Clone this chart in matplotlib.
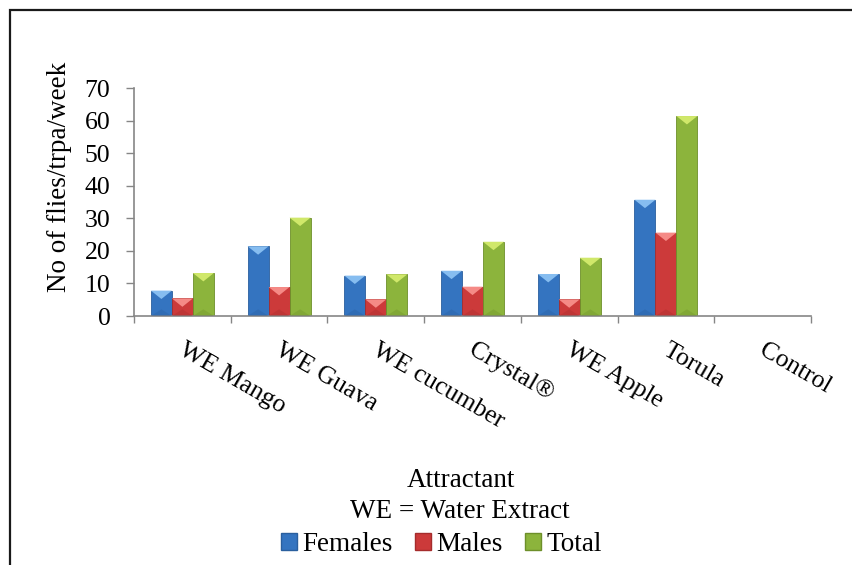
import numpy as np
import matplotlib.pyplot as plt
from matplotlib.patches import Rectangle, Polygon, Patch

# Fly catches per trap per week, by attractant
attractants = ["WE Mango", "WE Guava", "WE cucumber", "Crystal\u00ae", "WE Apple", "Torula", "Control"]
females = [7.8, 21.4, 12.4, 13.9, 12.9, 35.7, 0]
males = [5.4, 8.9, 5.1, 9.0, 5.1, 25.6, 0]
total = [13.2, 30.2, 12.8, 22.8, 17.9, 61.4, 0]

series = [
    ("Females", females, "#3474c0", "#2a5f9e", "#86bdf0"),
    ("Males", males, "#cc3a3a", "#a52c2c", "#f58a86"),
    ("Total", total, "#8cb43c", "#6d8f2a", "#d0e86a"),
]

plt.rcParams['font.family'] = ['Liberation Serif', 'DejaVu Serif']

fig = plt.figure(figsize=(8.52, 5.65), dpi=100)
ax = fig.add_axes([0.1573, 0.4407, 0.7946, 0.4035])

n = len(attractants)
centers = np.arange(n) + 0.5
bw = 0.217

ax.set_xlim(0, n)
ax.set_ylim(0, 70)

# vertical size of the bevel chevron, in data units
px_x = ax.transData.transform((bw, 0))[0] - ax.transData.transform((0, 0))[0]
px_y = ax.transData.transform((0, 1))[1] - ax.transData.transform((0, 0))[1]
chev = 0.4 * px_x / px_y

for i, (name, vals, face, edge, light) in enumerate(series):
    xs = centers + (i - 1) * bw
    bars = ax.bar(xs, vals, width=bw, color=face, edgecolor=edge, linewidth=0.6, zorder=2)
    for b, v in zip(bars, vals):
        if v <= 0:
            continue
        x0 = b.get_x()
        x1 = x0 + b.get_width()
        xc = (x0 + x1) / 2
        ax.add_patch(Polygon([(x0, v), (x1, v), (xc, v - chev)], closed=True,
                             facecolor=light, edgecolor='none', zorder=3))
        ax.add_patch(Polygon([(x0, 0), (x1, 0), (xc, chev * 0.8)], closed=True,
                             facecolor=edge, edgecolor='none', alpha=0.35, zorder=3))

ax.set_xticks(np.arange(n + 1))
ax.set_xticklabels([])
ax.set_yticks(range(0, 71, 10))
ax.tick_params(axis='y', direction='out', length=6, width=1, color='#868686',
               labelsize=18.5, pad=11)
ax.tick_params(axis='x', direction='out', length=5, width=1, color='#868686')
for s in ['top', 'right']:
    ax.spines[s].set_visible(False)
for s in ['left', 'bottom']:
    ax.spines[s].set_color('#868686')
    ax.spines[s].set_linewidth(1.2)

for c, lab in zip(centers, attractants):
    ax.text(c + 0.04, -7.0, lab, rotation=-30, rotation_mode='anchor', ha='left', va='top',
            fontsize=18.5, transform=ax.transData, clip_on=False)

ax.set_ylabel("No of flies/trpa/week", fontsize=19.5)
ax.yaxis.set_label_coords(-0.092, 0.612)

fig.text(0.541, 0.138, "Attractant", ha='center', va='baseline', fontsize=19.5)
fig.text(0.540, 0.0832, "WE = Water Extract", ha='center', va='baseline', fontsize=19.5)

handles = [Patch(facecolor=f, edgecolor=e, label=nm) for nm, _, f, e, _ in series]
fig.legend(handles=handles, loc='center', bbox_to_anchor=(0.518, 0.036), ncol=3,
           frameon=False, fontsize=19.5, handlelength=0.6, handleheight=0.6,
           handletextpad=0.2, columnspacing=0.8)

# chart area border
fig.patches.append(Rectangle((9.5 / 852, -0.1), 1.2, 1 - 9.5 / 565 + 0.1,
                             transform=fig.transFigure, fill=False,
                             edgecolor='#1a1a1a', linewidth=1.6))

fig.savefig("out.png", dpi=100, facecolor='white')
